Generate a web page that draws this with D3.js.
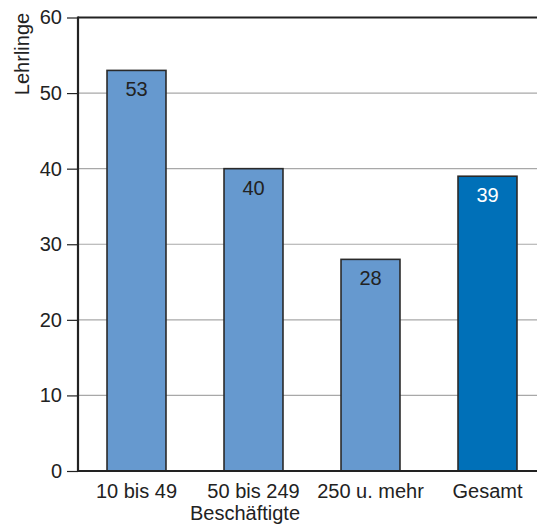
<!DOCTYPE html>
<html>
<head>
<meta charset="utf-8">
<script src="https://cdn.jsdelivr.net/npm/d3@7"></script>
<style>
  html, body { margin: 0; padding: 0; background: #fff; }
  svg { display: block; font-family: "Liberation Sans", Arial, sans-serif; }
</style>
</head>
<body>
<svg id="chart" width="537" height="525"></svg>
<script>
// Lehrlinge je Betriebsgröße (Beschäftigte)
const categories = ["10 bis 49", "50 bis 249", "250 u. mehr", "Gesamt"];
const values = [53, 40, 28, 39];
const yTicks = [0, 10, 20, 30, 40, 50, 60];
const barColors = ["#6699cf", "#6699cf", "#6699cf", "#0070b8"];
const labelColors = ["#222", "#222", "#222", "#fff"];

(function () {
  const svg = d3.select("#chart");
  const mLeft = 78, mTop = 17.5, mBottom = 471, mRight = 537;
  const fs = 20;

  const x = d3.scaleBand()
    .domain(categories)
    .range([mLeft, mLeft + 468])
    .paddingInner(0.496)
    .paddingOuter(0.248);

  const y = d3.scaleLinear().domain([0, 60]).range([mBottom, mTop]);

  // horizontal gridlines
  svg.append("g")
    .selectAll("line")
    .data(yTicks.filter(t => t > 0 && t < 60))
    .join("line")
    .attr("x1", mLeft).attr("x2", mRight)
    .attr("y1", d => y(d)).attr("y2", d => y(d))
    .attr("stroke", "#a8a8a8").attr("stroke-width", 1.2);

  // top border at 60
  svg.append("line")
    .attr("x1", mLeft).attr("x2", mRight)
    .attr("y1", y(60)).attr("y2", y(60))
    .attr("stroke", "#222").attr("stroke-width", 2);

  // bars
  svg.append("g")
    .selectAll("rect")
    .data(values)
    .join("rect")
    .attr("x", (d, i) => x(categories[i]))
    .attr("y", d => y(d))
    .attr("width", x.bandwidth())
    .attr("height", d => y(0) - y(d))
    .attr("fill", (d, i) => barColors[i])
    .attr("stroke", "#2a2a2a").attr("stroke-width", 1.6);

  // value labels
  svg.append("g")
    .selectAll("text")
    .data(values)
    .join("text")
    .attr("x", (d, i) => x(categories[i]) + x.bandwidth() / 2)
    .attr("y", d => y(d) + 26)
    .attr("text-anchor", "middle")
    .attr("font-size", fs)
    .attr("fill", (d, i) => labelColors[i])
    .text(d => d);

  // y axis
  const yAxis = svg.append("g")
    .attr("transform", `translate(${mLeft},0)`)
    .call(d3.axisLeft(y).tickValues(yTicks).tickSize(11).tickPadding(5).tickFormat(d3.format("d")));
  yAxis.select(".domain").remove();
  yAxis.selectAll(".tick line").attr("stroke", "#222").attr("stroke-width", 1.2);
  yAxis.selectAll(".tick text").attr("font-size", fs).attr("fill", "#222")
    .attr("font-family", "Liberation Sans, Arial, sans-serif");
  svg.append("line")
    .attr("x1", mLeft).attr("x2", mLeft)
    .attr("y1", y(60) - 1).attr("y2", mBottom + 1)
    .attr("stroke", "#222").attr("stroke-width", 2.2);

  // x axis
  const xAxis = svg.append("g")
    .attr("transform", `translate(0,${mBottom})`)
    .call(d3.axisBottom(x).tickSize(0).tickPadding(13));
  xAxis.select(".domain").remove();
  xAxis.selectAll(".tick text").attr("font-size", fs).attr("fill", "#222")
    .attr("font-family", "Liberation Sans, Arial, sans-serif");
  svg.append("line")
    .attr("x1", mLeft - 1).attr("x2", mRight)
    .attr("y1", mBottom).attr("y2", mBottom)
    .attr("stroke", "#222").attr("stroke-width", 2.2);

  // axis titles
  svg.append("text")
    .attr("transform", "translate(29,54) rotate(-90)")
    .attr("text-anchor", "middle")
    .attr("font-size", fs).attr("fill", "#222")
    .text("Lehrlinge");

  svg.append("text")
    .attr("x", 245).attr("y", 520)
    .attr("text-anchor", "middle")
    .attr("font-size", fs).attr("fill", "#222")
    .text("Beschäftigte");
})();
</script>
</body>
</html>
